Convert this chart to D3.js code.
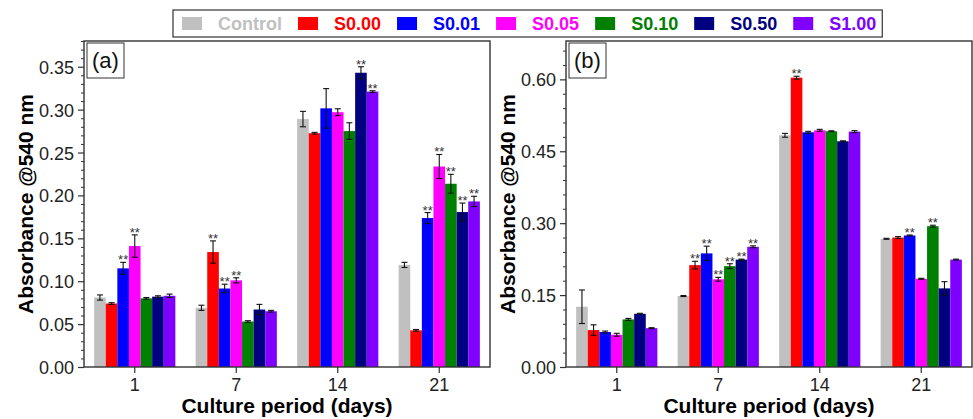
<!DOCTYPE html>
<html>
<head>
<meta charset="utf-8">
<script src="https://cdn.jsdelivr.net/npm/d3@7"></script>
<style>
  body { margin: 0; background: #fff; }
  svg { display: block; font-family: "Liberation Sans", Arial, sans-serif; }
</style>
</head>
<body>
<div id="chart"></div>
<script>
////////////////////////////////////////////////////////////////////////////////
// Data
////////////////////////////////////////////////////////////////////////////////
var days = ["1", "7", "14", "21"];
var groups = ["Control", "S0.00", "S0.01", "S0.05", "S0.10", "S0.50", "S1.00"];

// panel (a) - one row per group, one column per day
var meansA = [
  [0.081, 0.069, 0.289, 0.119],
  [0.074, 0.134, 0.2725, 0.0427],
  [0.115, 0.0915, 0.3015, 0.1736],
  [0.141, 0.101, 0.297, 0.2337],
  [0.080, 0.053, 0.275, 0.2136],
  [0.082, 0.067, 0.343, 0.1806],
  [0.083, 0.065, 0.321, 0.193]
];
var errA = [
  [0.003, 0.003, 0.009, 0.003],
  [0.001, 0.013, 0.001, 0.001],
  [0.007, 0.005, 0.023, 0.0064],
  [0.013, 0.003, 0.004, 0.014],
  [0.001, 0.001, 0.0097, 0.011],
  [0.001, 0.006, 0.007, 0.0105],
  [0.002, 0.001, 0.001, 0.006]
];
var sigA = [
  [0, 0, 0, 0],
  [0, 1, 0, 0],
  [1, 1, 0, 1],
  [1, 1, 0, 1],
  [0, 0, 0, 1],
  [0, 0, 1, 1],
  [0, 0, 1, 1]
];

// panel (b)
var meansB = [
  [0.1257, 0.148, 0.4833, 0.2674],
  [0.077, 0.2125, 0.6035, 0.270],
  [0.073, 0.237, 0.4896, 0.2743],
  [0.0673, 0.183, 0.4937, 0.184],
  [0.0993, 0.2104, 0.4917, 0.2937],
  [0.111, 0.224, 0.4708, 0.164],
  [0.081, 0.2507, 0.491, 0.224]
];
var errB = [
  [0.035, 0.001, 0.004, 0.001],
  [0.011, 0.008, 0.003, 0.002],
  [0.002, 0.015, 0.002, 0.001],
  [0.003, 0.004, 0.002, 0.001],
  [0.002, 0.005, 0.001, 0.002],
  [0.001, 0.001, 0.001, 0.014],
  [0.001, 0.002, 0.002, 0.001]
];
var sigB = [
  [0, 0, 0, 0],
  [0, 1, 1, 0],
  [0, 1, 0, 1],
  [0, 1, 0, 0],
  [0, 1, 0, 1],
  [0, 1, 0, 0],
  [0, 1, 0, 0]
];

var yTicksA = [0, 0.05, 0.10, 0.15, 0.20, 0.25, 0.30, 0.35];
var yTicksB = [0, 0.15, 0.30, 0.45, 0.60];

var colors = ["#c0c0c0", "#ff0000", "#0000ff", "#ff00ff", "#008000", "#000080", "#8000ff"];

////////////////////////////////////////////////////////////////////////////////
// Setup
////////////////////////////////////////////////////////////////////////////////
var W = 973, H = 419;
var plotTop = 41, plotH = 326, plotW = 406;

var svg = d3.select("#chart").append("svg")
  .attr("width", W)
  .attr("height", H);

////////////////////////////////////////////////////////////////////////////////
// Draw one panel
////////////////////////////////////////////////////////////////////////////////
function drawPanel(left, means, errs, sig, yMax, majors, minorStep, tag) {

  var g = svg.append("g").attr("transform", "translate(" + left + "," + plotTop + ")");

  var x = d3.scaleBand().domain(days).range([0, plotW]).paddingInner(0.2).paddingOuter(0.1);
  var xIn = d3.scaleBand().domain(groups).range([0, x.bandwidth()]);
  var y = d3.scaleLinear().domain([0, yMax]).range([plotH, 0]);

  // flatten to one record per bar
  var bars = [];
  groups.forEach(function (grp, gi) {
    days.forEach(function (d, di) {
      bars.push({ grp: grp, gi: gi, day: d, m: means[gi][di], e: errs[gi][di], s: sig[gi][di] });
    });
  });

  // bars
  g.selectAll("rect.bar").data(bars).enter().append("rect")
    .attr("class", "bar")
    .attr("x", function (d) { return x(d.day) + xIn(d.grp); })
    .attr("y", function (d) { return y(d.m); })
    .attr("width", xIn.bandwidth())
    .attr("height", function (d) { return plotH - y(d.m); })
    .attr("fill", function (d) { return colors[d.gi]; });

  // error bars
  var eb = g.selectAll("g.err").data(bars).enter().append("g").attr("class", "err")
    .attr("transform", function (d) { return "translate(" + (x(d.day) + xIn(d.grp) + xIn.bandwidth() / 2) + ",0)"; });
  eb.append("line")
    .attr("y1", function (d) { return y(d.m + d.e); })
    .attr("y2", function (d) { return y(d.m - d.e); })
    .attr("stroke", "#111").attr("stroke-width", 1.1);
  eb.append("line")
    .attr("x1", -3).attr("x2", 3)
    .attr("y1", function (d) { return y(d.m + d.e); })
    .attr("y2", function (d) { return y(d.m + d.e); })
    .attr("stroke", "#111").attr("stroke-width", 1.1);
  eb.append("line")
    .attr("x1", -3).attr("x2", 3)
    .attr("y1", function (d) { return y(d.m - d.e); })
    .attr("y2", function (d) { return y(d.m - d.e); })
    .attr("stroke", "#111").attr("stroke-width", 1.1);

  // significance stars
  g.selectAll("text.star").data(bars.filter(function (d) { return d.s; })).enter().append("text")
    .attr("class", "star")
    .attr("x", function (d) { return x(d.day) + xIn(d.grp) + xIn.bandwidth() / 2; })
    .attr("y", function (d) { return y(d.m + d.e) + 2; })
    .attr("text-anchor", "middle")
    .attr("font-size", "13px")
    .attr("fill", "#333")
    .text("**");

  // y axis with minor ticks
  var minors = d3.range(0, yMax + 1e-9, minorStep).filter(function (v) {
    return !majors.some(function (m) { return Math.abs(m - v) < 1e-6; });
  });
  g.append("g")
    .call(d3.axisLeft(y).tickValues(minors).tickSize(3).tickFormat(""))
    .call(function (a) { a.select(".domain").remove(); a.selectAll("line").attr("stroke", "#333"); });
  var ya = g.append("g")
    .call(d3.axisLeft(y).tickValues(majors).tickSize(6).tickPadding(4).tickFormat(d3.format(".2f")));
  ya.select(".domain").remove();
  ya.selectAll("line").attr("stroke", "#333").attr("stroke-width", 1.2);
  ya.selectAll("text").attr("font-size", "18px").attr("fill", "#222").attr("font-family", null).attr("dy", "0.36em");

  // x axis
  var xa = g.append("g").attr("transform", "translate(0," + plotH + ")")
    .call(d3.axisBottom(x).tickSize(6).tickPadding(5));
  xa.select(".domain").remove();
  xa.selectAll("line").attr("stroke", "#333").attr("stroke-width", 1.2);
  xa.selectAll("text").attr("font-size", "18px").attr("fill", "#222").attr("font-family", null);

  // frame
  g.append("rect")
    .attr("x", 0).attr("y", 0)
    .attr("width", plotW).attr("height", plotH)
    .attr("fill", "none").attr("stroke", "#333").attr("stroke-width", 1.4);

  // panel tag box
  g.append("rect")
    .attr("x", 3).attr("y", 2).attr("width", 37).attr("height", 35)
    .attr("fill", "#fff").attr("stroke", "#333").attr("stroke-width", 1);
  g.append("text")
    .attr("x", 21.5).attr("y", 27)
    .attr("text-anchor", "middle")
    .attr("font-size", "22px").attr("fill", "#111")
    .text(tag);

  // axis titles
  g.append("text")
    .attr("transform", "translate(-51," + (plotH / 2) + ") rotate(-90)")
    .attr("text-anchor", "middle")
    .attr("font-size", "21px").attr("font-weight", "bold")
    .text("Absorbance @540 nm");
  g.append("text")
    .attr("x", plotW / 2).attr("y", plotH + 46)
    .attr("text-anchor", "middle")
    .attr("font-size", "21px").attr("font-weight", "bold")
    .text("Culture period (days)");
}

drawPanel(84, meansA, errA, sigA, 0.38, yTicksA, 0.01, "(a)");
drawPanel(566, meansB, errB, sigB, 0.68, yTicksB, 0.03, "(b)");

////////////////////////////////////////////////////////////////////////////////
// Legend
////////////////////////////////////////////////////////////////////////////////
var leg = svg.append("g");
var box = leg.append("rect")
  .attr("y", 10).attr("height", 27)
  .attr("fill", "#fff").attr("stroke", "#333").attr("stroke-width", 1.2);

var cursor = 182;
groups.forEach(function (grp, i) {
  leg.append("rect")
    .attr("x", cursor).attr("y", 17)
    .attr("width", 20).attr("height", 13)
    .attr("fill", colors[i]);
  var t = leg.append("text")
    .attr("x", cursor + 36).attr("y", 30)
    .attr("font-size", "18px").attr("font-weight", "bold")
    .attr("fill", colors[i])
    .text(grp);
  cursor = cursor + 36 + t.node().getComputedTextLength() + 16;
});
box.attr("x", 173).attr("width", cursor - 16 + 6 - 173);
</script>
</body>
</html>
